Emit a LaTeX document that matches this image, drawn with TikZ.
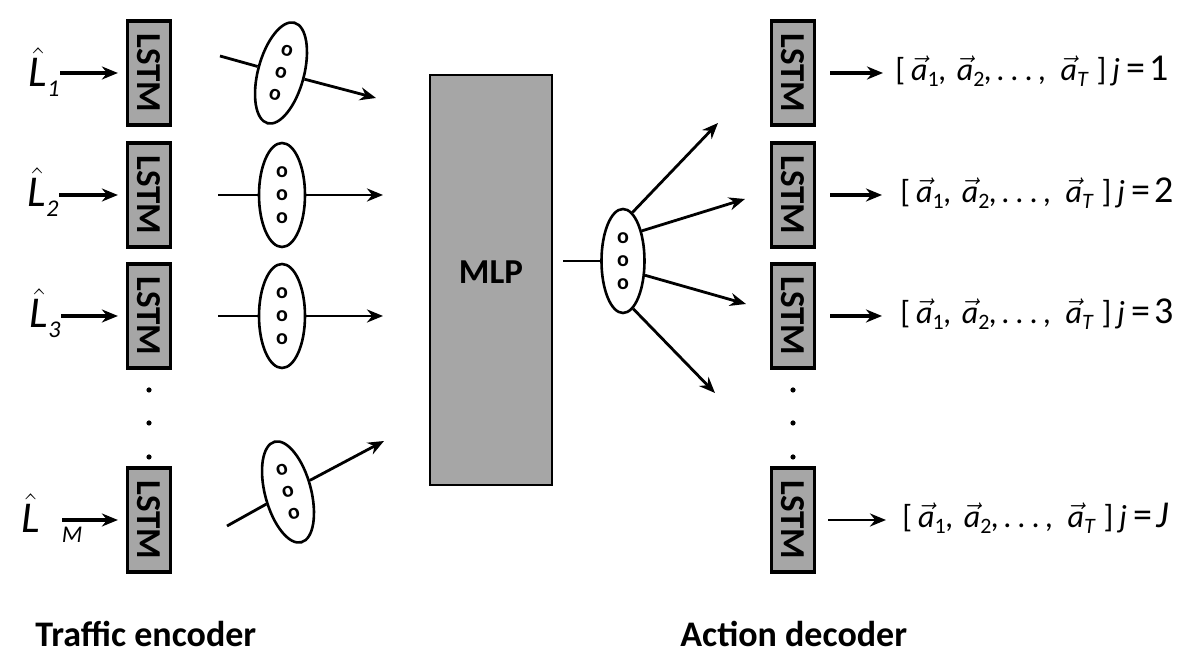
\documentclass[tikz,border=0pt]{standalone}
\usepackage{fontspec}
\setmainfont{Carlito}
\usepackage{graphicx}
\usetikzlibrary{arrows.meta,shapes.geometric}
\definecolor{boxgray}{RGB}{166,166,166}
\newcommand{\lhat}{$\hat{\mbox{\textit{L}}}$}
\newcommand{\lsub}[1]{\raisebox{-5pt}{\fontsize{12}{12}\selectfont #1}}
\newcommand{\asub}[1]{\raisebox{-3pt}{\fontsize{11}{11}\selectfont #1}}
\newcommand{\va}[1]{$\vec{\mbox{\textit{a}}}$\asub{#1}}
\newcommand{\actseq}[1]{[\hspace{3pt}\va{1}\textit{,}\hspace{5pt}\va{2}\textit{,}\hspace{2pt}.\hspace{3pt}.\hspace{3pt}.\hspace{3pt}\textit{,}\hspace{7pt}\va{\textit{T}}\hspace{4pt}]\hspace{3pt}\textit{j}\hspace{3pt}{\fontsize{19}{19}\selectfont =\hspace{2pt}#1}}

\begin{document}
\begin{tikzpicture}[x=0.5pt,y=-0.5pt,
  lstm/.style={draw,line width=1.6pt,fill=boxgray,minimum width=21.5pt,minimum height=52pt,
               inner sep=0pt,font=\fontsize{17.5}{17.5}\selectfont\bfseries},
  cell/.style={ellipse,draw,line width=1.3pt,fill=white,minimum width=23pt,minimum height=52pt,
               inner sep=0pt,align=center,font=\fontsize{11}{11.5}\selectfont\bfseries},
  inlabel/.style={anchor=base east,inner sep=0pt,font=\fontsize{22}{22}\selectfont\itshape},
  outlabel/.style={anchor=base west,inner sep=0pt,font=\fontsize{16}{16}\selectfont},
  title/.style={anchor=base west,inner sep=0pt,font=\fontsize{18}{18}\selectfont\bfseries},
  wire/.style={line width=1.4pt},
  arr/.style={line width=1.4pt,-{Stealth[length=8pt,width=6.5pt]}},
  fatarr/.style={line width=2pt,-{Stealth[length=8pt,width=6.5pt]}}]

\useasboundingbox (0,0) rectangle (1191,656);

\foreach \n/\y in {1/73,2/195,3/316,M/520} {
  \node[lstm] (enc\n) at (149,\y) {\rotatebox{-90}{LSTM}};
}
\foreach \n/\y in {1/73,2/195,3/316,J/520} {
  \node[lstm] (dec\n) at (793,\y) {\rotatebox{-90}{LSTM}};
}
\foreach \y in {390,423,457} {
  \fill (149,\y) circle (1.3pt);
  \fill (793,\y) circle (1.3pt);
}

\node[inlabel] (l1) at (60,87) {\lhat\lsub{1}};
\node[inlabel] (l2) at (59,207) {\lhat\lsub{2}};
\node[inlabel] (l3) at (61,328) {\lhat\lsub{3}};
\node[inlabel,anchor=base west] (lM) at (21,533) {\lhat\hspace{11pt}\lsub{M}};
\coordinate (lMa) at (62,520);
\draw[fatarr,shorten >=4pt] (l1.east |- enc1) -- (enc1);
\draw[fatarr,shorten >=4pt] (l2.east |- enc2) -- (enc2);
\draw[fatarr,shorten >=4pt] (l3.east |- enc3) -- (enc3);
\draw[fatarr,shorten >=4pt] (lMa) -- (encM);

\node[cell,rotate=-15] (h1) at (281,73) {o\\o\\o};
\node[cell] (h2) at (282,195) {o\\o\\o};
\node[cell] (h3) at (282,316) {o\\o\\o};
\node[cell,rotate=15] (hM) at (288,492) {o\\o\\o};

\coordinate (a1) at (220,56);  \coordinate (b1) at (376,98);
\coordinate (a2) at (218,195); \coordinate (b2) at (383,195);
\coordinate (a3) at (218,316); \coordinate (b3) at (383,316);
\coordinate (aM) at (227,526); \coordinate (bM) at (384,441);
\foreach \n in {1,2,3,M} {
  \draw[wire] (a\n) -- (h\n);
  \draw[arr] (h\n) -- (b\n);
}

\node[draw,line width=1.3pt,fill=boxgray,minimum width=61pt,minimum height=205pt,
      font=\fontsize{17.5}{17.5}\selectfont\bfseries] (mlp) at (491,280) {\raisebox{7.5pt}{MLP}};

\node[cell,minimum width=21.5pt] (fan) at (623,261) {o\\o\\o};
\draw[wire,shorten <=5pt] (mlp.east |- fan) -- (fan);

\coordinate (f1) at (718,123);
\coordinate (f2) at (745,199);
\coordinate (f3) at (746,304);
\coordinate (f4) at (715,393);
\foreach \a/\t in {79/f1,58/f2,-33/f3,-78/f4}
  \draw[arr] (fan.\a) -- (\t);

\node[outlabel] (o1) at (895,81)  {\actseq{1}};
\node[outlabel] (o2) at (900,203) {\actseq{2}};
\node[outlabel] (o3) at (900,324) {\actseq{3}};
\node[outlabel] (oJ) at (902,528) {\actseq{\textit{J}}};
\draw[fatarr,shorten <=7pt,shorten >=6pt] (dec1) -- (dec1 -| o1.west);
\draw[fatarr,shorten <=7pt,shorten >=9pt] (dec2) -- (dec2 -| o2.west);
\draw[fatarr,shorten <=7pt,shorten >=9pt] (dec3) -- (dec3 -| o3.west);
\draw[arr,shorten <=6pt,shorten >=8pt] (decJ) -- (decJ -| oJ.west);

\node[title] (enc) at (35,647) {Traffic encoder};
\node[title] (decd) at (680,647) {Action decoder};
\end{tikzpicture}
\end{document}
